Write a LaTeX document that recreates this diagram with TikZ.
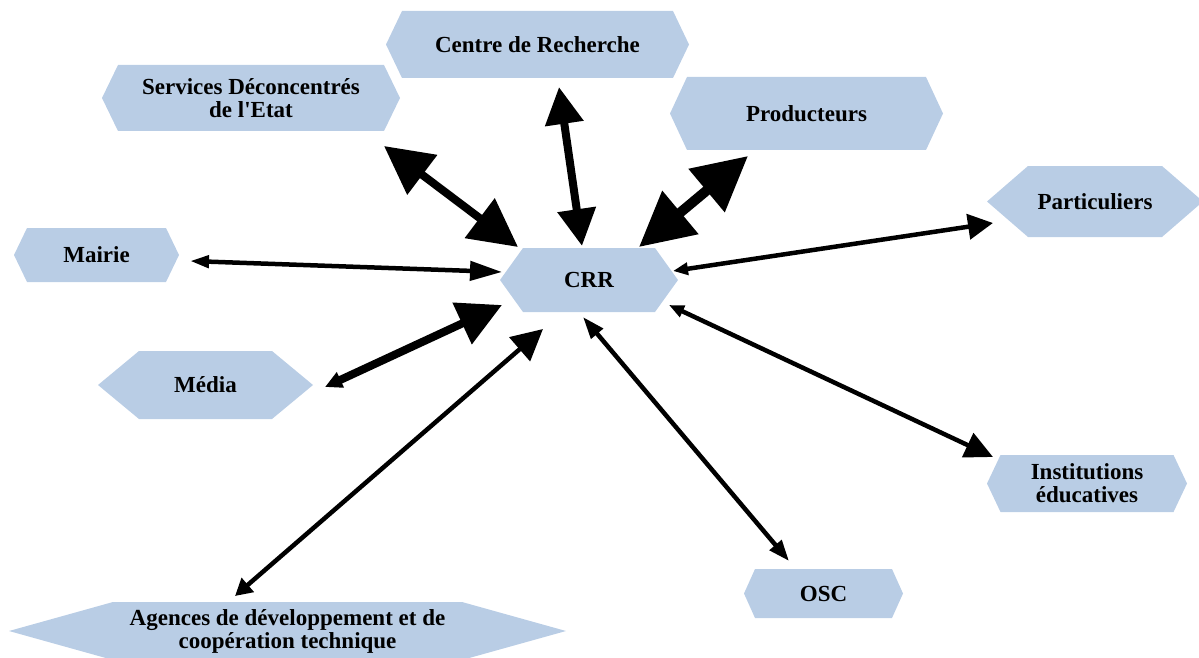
\documentclass[tikz,border=0pt]{standalone}
\usepackage{fontspec}
\setmainfont{Liberation Serif}
\usetikzlibrary{arrows.meta}
\definecolor{hexfill}{RGB}{185,205,229}
\tikzset{
  lbl/.style={font=\fontsize{23}{23}\selectfont\bfseries, align=center, inner sep=0pt, text=black},
  thickarr/.style={line width=8pt, black},
  thinarr/.style={line width=4.5pt, black},
}
\newcommand\hexbox[7]{%
  \fill[hexfill] (#2-#4,#3) -- (#2-#4+#6,#3-#5) -- (#2+#4-#6,#3-#5) -- (#2+#4,#3)
     -- (#2+#4-#6,#3+#5) -- (#2-#4+#6,#3+#5) -- cycle;
  \node[lbl] (#1) at (#2,#3) {#7};}
\begin{document}
\begin{tikzpicture}[x=1pt,y=-1pt]
\useasboundingbox (0,0) rectangle (1199,658);
% shapes
\hexbox{centre}{537.5}{44.5}{151.5}{33.5}{16}{Centre de Recherche}
\hexbox{serv}{251}{98}{149}{33}{16}{Services Déconcentrés\\de l\textquotesingle Etat}
\hexbox{prod}{806.5}{113.5}{136.5}{36.5}{17}{Producteurs}
\hexbox{crr}{589}{280}{89}{32}{23}{CRR}
\hexbox{part}{1095}{201.5}{108}{35.5}{41}{Particuliers}
\hexbox{mairie}{96.5}{255}{82.5}{27}{13}{Mairie}
\hexbox{media}{205.5}{385}{107.5}{34}{41}{Média}
\hexbox{inst}{1087}{483.5}{100}{28.5}{13.5}{Institutions\\éducatives}
\hexbox{osc}{823.5}{593.5}{79.5}{24.5}{11}{OSC}
\hexbox{agen}{287.5}{631}{278.5}{29}{104}{Agences de développement et de\\coopération technique}
% connector end points
\coordinate (svA) at (384,146);   \coordinate (svB) at (518,247);
\coordinate (ceA) at (559,87);    \coordinate (ceB) at (582,246);
\coordinate (prA) at (748,156);   \coordinate (prB) at (639,247);
\coordinate (meA) at (325,387);   \coordinate (meB) at (502,305);
\coordinate (maA) at (190,261);   \coordinate (maB) at (502,272);
\coordinate (paA) at (993,223);   \coordinate (paB) at (673,271);
\coordinate (inA) at (993,457);   \coordinate (inB) at (669,305);
\coordinate (osA) at (789,561);   \coordinate (osB) at (583,317);
\coordinate (agA) at (235,596);   \coordinate (agB) at (543,329);
% connectors
\draw[thickarr, {Triangle[length=48pt,width=48pt]}-{Triangle[length=48pt,width=48pt]}] (svA) -- (svB);
\draw[thickarr, {Triangle[length=37pt,width=37pt]}-{Triangle[length=37pt,width=37pt]}] (ceA) -- (ceB);
\draw[thickarr, line width=10pt, {Triangle[length=54pt,width=54pt]}-{Triangle[length=54pt,width=54pt]}] (prA) -- (prB);
\draw[thickarr, {Triangle[length=17pt,width=16pt]}-{Triangle[length=44pt,width=44pt]}] (meA) -- (meB);
\draw[thinarr, {Triangle[length=19pt,width=12pt]}-{Triangle[length=32pt,width=19pt]}] (maA) -- (maB);
\draw[thinarr, {Triangle[length=25pt,width=25pt]}-{Triangle[length=15pt,width=12pt]}] (paA) -- (paB);
\draw[thinarr, {Triangle[length=28pt,width=26pt]}-{Triangle[length=15pt,width=12pt]}] (inA) -- (inB);
\draw[thinarr, {Triangle[length=21pt,width=15pt]}-{Triangle[length=22pt,width=15pt]}] (osA) -- (osB);
\draw[thinarr, {Triangle[length=17pt,width=18pt]}-{Triangle[length=31pt,width=31pt]}] (agA) -- (agB);
\end{tikzpicture}
\end{document}
